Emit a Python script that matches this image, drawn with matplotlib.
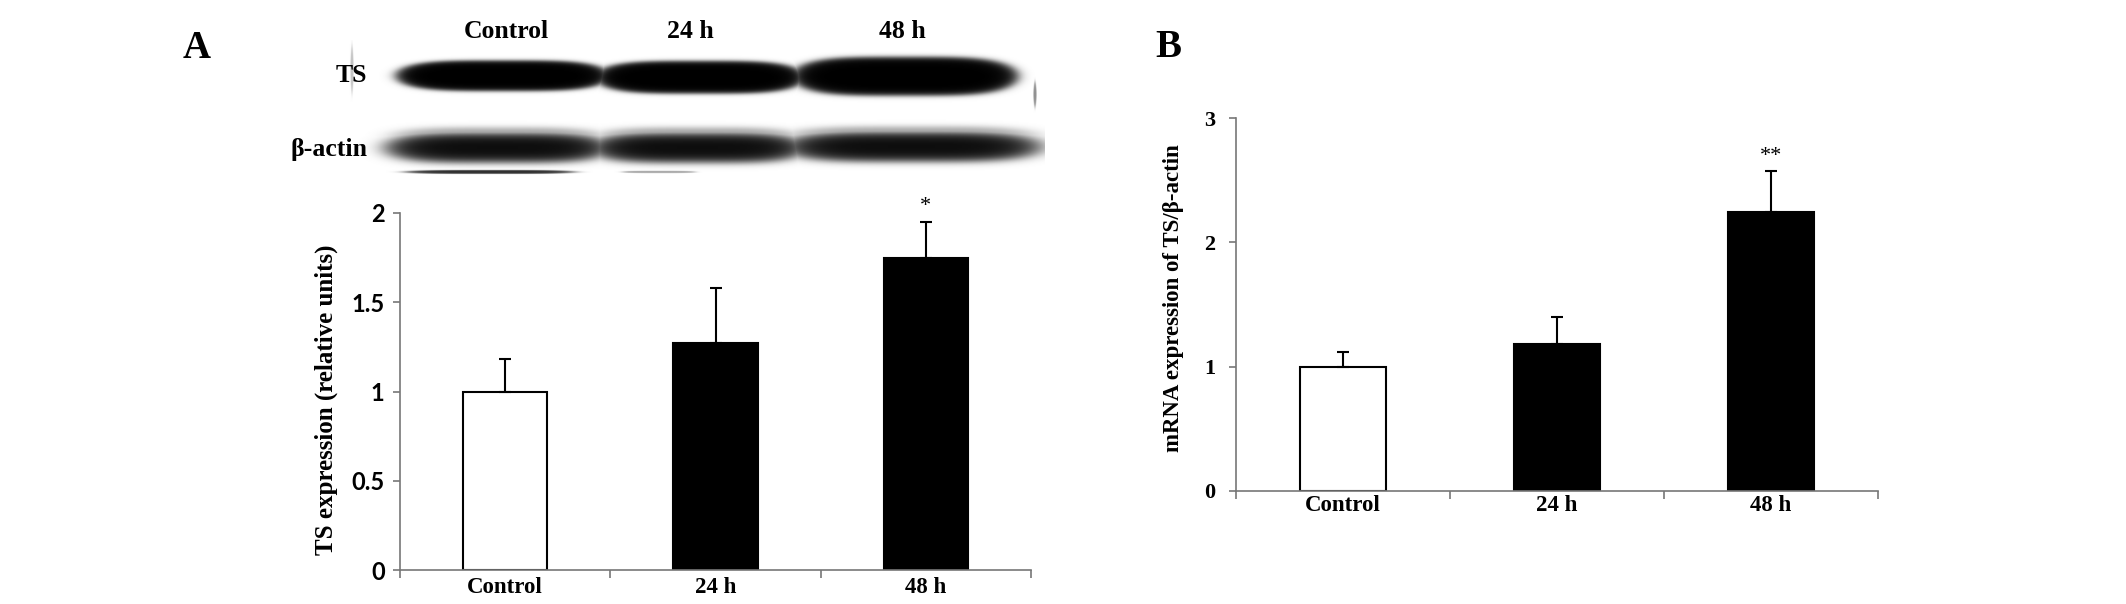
import numpy as np
import matplotlib.pyplot as plt

# data
groups = ["Control", "24 h", "48 h"]
ts_protein = [1.0, 1.27, 1.75]
ts_protein_err = [0.18, 0.31, 0.20]
ts_mrna = [1.0, 1.18, 2.24]
ts_mrna_err = [0.12, 0.22, 0.33]
protein_sig = ["", "", "*"]
mrna_sig = ["", "", "**"]
protein_yticks = [0, 0.5, 1, 1.5, 2]
protein_yticklabels = ["0", "0.5", "1", "1.5", "2"]
mrna_yticks = [0, 1, 2, 3]
mrna_yticklabels = ["0", "1", "2", "3"]
blot_rows = ["TS", "\u03b2-actin"]

bar_colors = ["white", "black", "black"]
axis_color = "#777777"
serif = "Liberation Serif"

W, H = 2126, 604
fig = plt.figure(figsize=(W / 100, H / 100), dpi=100)


def px_axes(left, top, right, bottom):
    return fig.add_axes([left / W, 1 - bottom / H, (right - left) / W, (bottom - top) / H])


def ftext(x, y, s, **kw):
    fig.text(x / W, 1 - y / H, s, **kw)


# ---- western blot (drawn as a picture) ----
bx0, bx1, by0, by1 = 340, 1045, 40, 185
xs = np.arange(bx0, bx1) + 0.5
ys = np.arange(by0, by1) + 0.5
X, Y = np.meshgrid(xs, ys)


def band(cx, hw, cy, hh, soft=0.15, amp=1.0, px=4):
    r = (np.abs(X - cx) / hw) ** px + (np.abs(Y - cy) / hh) ** 2
    return amp / (1 + np.exp((r - 1) / soft))


dark = np.zeros_like(X)
# TS row
for cx, hw, cy, hh in [(503, 106, 76.5, 15), (700, 104, 78, 16), (905, 112, 77, 19)]:
    dark = np.maximum(dark, band(cx, hw, cy, hh))
# beta-actin row
for cx, hw, cy, hh in [(498, 108, 148, 14), (698, 104, 148, 14), (912, 124, 147, 14)]:
    dark = np.maximum(dark, band(cx, hw, cy, hh, soft=0.35))
    dark = np.maximum(dark, band(cx, hw - 10, cy - 10, 9, soft=0.5, amp=0.45))
# faint lines under the actin bands
dark = np.maximum(dark, band(490, 82, 172, 1.8, soft=0.3, amp=0.85))
dark = np.maximum(dark, band(659, 36, 172, 1.2, soft=0.3, amp=0.35))
# small marks
dark = np.maximum(dark, band(1035, 1.5, 95, 12, soft=0.3, amp=0.45, px=2))
dark = np.maximum(dark, band(352, 1.5, 70, 22, soft=0.3, amp=0.25, px=2))

axb = px_axes(bx0, by0, bx1, by1)
axb.imshow(dark, cmap="gray_r", vmin=0, vmax=1, interpolation="bilinear",
           extent=(bx0, bx1, by1, by0), aspect="auto")
axb.axis("off")

for s, x in zip(groups, [506, 690, 902]):
    ftext(x, 38, s, ha="center", va="baseline", fontsize=18.5, fontweight="bold", family=serif)
for s, y in zip(blot_rows, [82, 156]):
    ftext(367, y, s, ha="right", va="baseline", fontsize=18.5, fontweight="bold", family=serif)

ftext(197, 58, "A", ha="center", va="baseline", fontsize=28, fontweight="bold", family=serif)
ftext(1168, 57, "B", ha="center", va="baseline", fontsize=28, fontweight="bold", family=serif)


def bar_panel(ax, vals, errs, sig, yticks, yticklabels, tick_font, tick_size, ypad, xpad):
    x = np.arange(len(groups))
    ax.bar(x, vals, 0.4, color=bar_colors, edgecolor="black", linewidth=1.5, zorder=2)
    ax.errorbar(x, vals, yerr=[np.zeros(len(vals)), errs], fmt="none", ecolor="black",
                elinewidth=1.5, capsize=4.5, capthick=1.5, zorder=3)
    for i, s in enumerate(sig):
        if s:
            ax.annotate(s, (x[i], vals[i] + errs[i]), xytext=(0, 4), textcoords="offset points",
                        ha="center", va="bottom", fontsize=16, family=serif)
    ax.set_xlim(-0.5, len(groups) - 0.5)
    ax.set_ylim(yticks[0], yticks[-1])
    for sp in ["top", "right"]:
        ax.spines[sp].set_visible(False)
    for sp in ["left", "bottom"]:
        ax.spines[sp].set_color(axis_color)
        ax.spines[sp].set_linewidth(1.2)
    ax.set_yticks(yticks)
    ax.set_yticklabels(yticklabels, fontsize=tick_size, fontweight="bold", family=tick_font)
    ax.tick_params(axis="y", direction="out", length=5, width=1.2, color=axis_color, pad=ypad)
    ax.set_xticks(np.arange(len(groups) + 1) - 0.5)
    ax.set_xticklabels([])
    ax.tick_params(axis="x", which="major", direction="out", length=6, width=1.2, color=axis_color)
    ax.set_xticks(x, minor=True)
    ax.set_xticklabels(groups, minor=True, fontsize=16.5, fontweight="bold", family=serif)
    ax.tick_params(axis="x", which="minor", length=0, pad=xpad)


axA = px_axes(400, 213, 1031, 570)
bar_panel(axA, ts_protein, ts_protein_err, protein_sig, protein_yticks, protein_yticklabels,
          "Lato", 17, 6, 5)
ftext(326, 400, "TS expression (relative units)", rotation=90, ha="center", va="center",
      fontsize=18, fontweight="bold", family=serif)

axB = px_axes(1236, 118, 1878, 491)
bar_panel(axB, ts_mrna, ts_mrna_err, mrna_sig, mrna_yticks, mrna_yticklabels,
          serif, 16, 10, 3)
ftext(1173, 298, "mRNA expression of TS/\u03b2-actin", rotation=90, ha="center", va="center",
      fontsize=16.5, fontweight="bold", family=serif)

fig.savefig("out.png", dpi=100)
